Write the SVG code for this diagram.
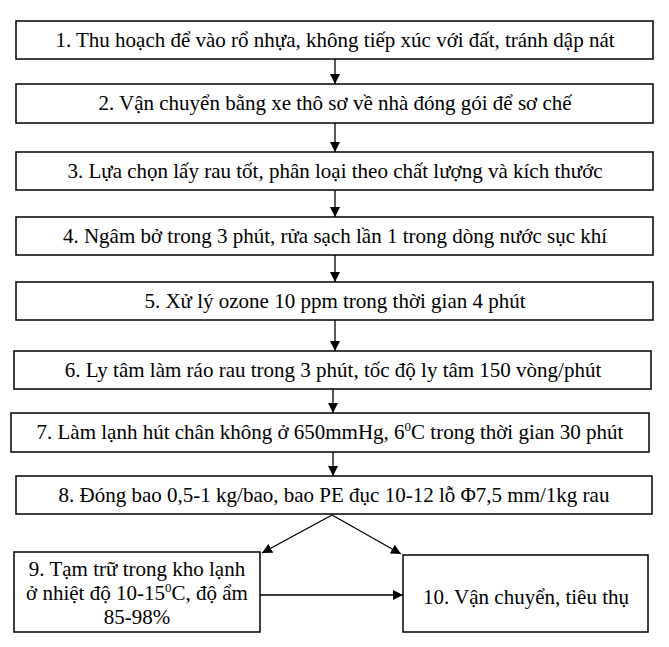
<svg xmlns="http://www.w3.org/2000/svg" width="669" height="647" viewBox="0 0 669 647">
<style>
.box{fill:#fff;stroke:#000;stroke-width:1.5}
.t{font-family:"Liberation Serif","Times New Roman",serif;font-size:21px;fill:#000;text-anchor:middle}
.sup{font-size:13px}
.c{stroke:#000;stroke-width:1.3;fill:none;marker-end:url(#ah)}
</style>
<defs>
<marker id="ah" viewBox="0 0 10 10" refX="10" refY="5" markerWidth="10" markerHeight="10" markerUnits="userSpaceOnUse" orient="auto">
<path d="M0,0 L10,5 L0,10 Z" fill="#000"/>
</marker>
</defs>
<rect width="669" height="647" fill="#fff"/>
<g id="connectors">
<line class="c" x1="335" y1="59" x2="335" y2="84"/>
<line class="c" x1="335" y1="123" x2="335" y2="152"/>
<line class="c" x1="335" y1="190" x2="335" y2="217"/>
<line class="c" x1="335" y1="255" x2="335" y2="282"/>
<line class="c" x1="335" y1="320" x2="335" y2="351"/>
<line class="c" x1="333" y1="389" x2="333" y2="413"/>
<line class="c" x1="333" y1="452" x2="333" y2="476"/>
<line class="c" x1="332" y1="515" x2="262" y2="553"/>
<line class="c" x1="332" y1="515" x2="401" y2="554"/>
<line class="c" x1="260" y1="595" x2="403" y2="595"/>
</g>
<g id="n1"><rect class="box" x="16" y="21" width="637" height="38"/><text class="t" x="335" y="47">1. Thu hoạch để vào rổ nhựa, không tiếp xúc với đất, tránh dập nát</text></g>
<g id="n2"><rect class="box" x="16" y="84" width="637" height="39"/><text class="t" x="335" y="110">2. Vận chuyển bằng xe thô sơ về nhà đóng gói để sơ chế</text></g>
<g id="n3"><rect class="box" x="16" y="152" width="637" height="38"/><text class="t" x="335" y="178">3. Lựa chọn lấy rau tốt, phân loại theo chất lượng và kích thước</text></g>
<g id="n4"><rect class="box" x="16" y="217" width="637" height="38"/><text class="t" x="335" y="243">4. Ngâm bở trong 3 phút, rửa sạch lần 1 trong dòng nước sục khí</text></g>
<g id="n5"><rect class="box" x="16" y="282" width="637" height="38"/><text class="t" x="335" y="308">5. Xử lý ozone 10 ppm trong thời gian 4 phút</text></g>
<g id="n6"><rect class="box" x="14" y="351" width="637" height="38"/><text class="t" x="333" y="377">6. Ly tâm làm ráo rau trong 3 phút, tốc độ ly tâm 150 vòng/phút</text></g>
<g id="n7"><rect class="box" x="11" y="413" width="638" height="39"/><text class="t" x="330" y="439">7. Làm lạnh hút chân không ở 650mmHg, 6<tspan class="sup" dy="-8">0</tspan><tspan dy="8">C trong thời gian 30 phút</tspan></text></g>
<g id="n8"><rect class="box" x="16" y="476" width="636" height="38"/><text class="t" x="334" y="502">8. Đóng bao 0,5-1 kg/bao, bao PE đục 10-12 lỗ Φ7,5 mm/1kg rau</text></g>
<g id="n9"><rect class="box" x="14" y="552" width="246" height="80"/>
<text class="t" x="137" y="576">9. Tạm trữ trong kho lạnh</text>
<text class="t" x="137" y="600">ở nhiệt độ 10-15<tspan class="sup" dy="-8">0</tspan><tspan dy="8">C, độ ẩm</tspan></text>
<text class="t" x="137" y="624">85-98%</text></g>
<g id="n10"><rect class="box" x="403" y="555" width="245" height="77"/><text class="t" x="526" y="604">10. Vận chuyển, tiêu thụ</text></g>
</svg>
